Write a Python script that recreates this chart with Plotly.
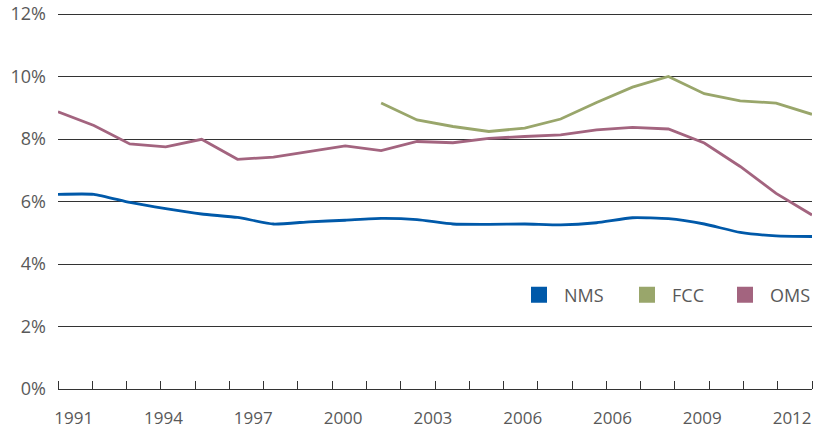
import plotly.graph_objects as go

years = list(range(1991, 2013))
nms = [6.23, 6.23, 5.97, 5.77, 5.60, 5.49, 5.28, 5.35, 5.40, 5.46, 5.42,
       5.28, 5.27, 5.28, 5.25, 5.32, 5.48, 5.45, 5.28, 5.01, 4.90, 4.88]
fcc = [None] * 9 + [9.15, 8.61, 8.40, 8.24, 8.35, 8.64, 9.17, 9.66, 10.0,
                    9.45, 9.22, 9.15, 8.79]
oms = [8.87, 8.43, 7.84, 7.75, 7.99, 7.35, 7.42, 7.60, 7.78, 7.63, 7.92,
       7.88, 8.02, 8.08, 8.13, 8.29, 8.37, 8.32, 7.87, 7.12, 6.26, 5.57]
x_tick_labels = ["1991", "1994", "1997", "2000", "2003", "2006", "2006", "2009", "2012"]
y_ticks = [0, 2, 4, 6, 8, 10, 12]
series_names = ["NMS", "FCC", "OMS"]

C_NMS = "#0059A9"
C_FCC = "#99A66B"
C_OMS = "#A3647F"
colors = [C_NMS, C_FCC, C_OMS]
TXT = "#595959"
GRID = "#333333"
FONT = "Open Sans"

W, H = 816, 430
L, R, B = 58, 4, 41.3
top_px = 14.3          # pixel row of the 12% line
extra = 2              # a little headroom so the 12% gridline is drawn
T = top_px - extra
plot_w = W - L - R
plot_h = H - T - B
px_per_unit = (plot_h - extra) / 12
y_top = 12 + extra / px_per_unit

x0, x1 = years[0], years[-1]
span = x1 - x0
minor_vals = [x0 + k * span / 22 for k in range(23)]
lab_px0, lab_step = 15.7, 89.8
label_vals = [x0 + (lab_px0 + j * lab_step) / plot_w * span for j in range(len(x_tick_labels))]

fig = go.Figure()
for name, vals, col, shape in [("NMS", nms, C_NMS, "spline"),
                               ("FCC", fcc, C_FCC, "linear"),
                               ("OMS", oms, C_OMS, "linear")]:
    fig.add_trace(go.Scatter(x=years, y=vals, mode="lines", name=name,
                             line=dict(color=col, width=2.8, shape=shape, smoothing=0.5),
                             showlegend=False, connectgaps=False, hoverinfo="skip"))

legend_ids = ["legend", "legend2", "legend3"]
legend_square_px = [531, 639, 739]
for name, col, lid in zip(series_names, colors, legend_ids):
    fig.add_trace(go.Scatter(x=[None], y=[None], mode="markers", name=name, legend=lid,
                             marker=dict(symbol="square", size=16, color=col)))

leg_y = (H - B - 295) / plot_h
legend_layout = {}
for i, (lid, px) in enumerate(zip(legend_ids, legend_square_px)):
    if i < 2:
        pos = dict(x=(px - 17 - L) / plot_w, xanchor="left")
    else:
        pos = dict(x=(W - L) / plot_w, xanchor="right")
    legend_layout[lid] = dict(**pos, y=leg_y, yanchor="middle", itemwidth=40,
                              font=dict(size=18, color=TXT), bgcolor="rgba(0,0,0,0)")

fig.update_layout(
    width=W, height=H,
    margin=dict(l=L, r=R, t=T, b=B, autoexpand=False),
    paper_bgcolor="white", plot_bgcolor="white",
    font=dict(family=FONT, size=17, color=TXT),
    showlegend=True,
    xaxis=dict(range=[x0, x1], showgrid=False, zeroline=False, automargin=False,
               showline=True, linecolor=GRID, linewidth=1,
               tickmode="array", tickvals=label_vals, ticktext=x_tick_labels,
               ticks="", ticklabelstandoff=14, tickfont=dict(size=17),
               minor=dict(tickmode="array", tickvals=minor_vals, ticks="inside",
                          ticklen=8, tickwidth=1, tickcolor=GRID, showgrid=False)),
    yaxis=dict(range=[0, y_top], tickmode="array", tickvals=y_ticks, automargin=False,
               ticktext=[f"{v}%" for v in y_ticks], tickfont=dict(size=18),
               showgrid=True, gridcolor=GRID, gridwidth=1, zeroline=False,
               showline=False, ticks="", ticklabelstandoff=11),
    **legend_layout,
)

fig.write_html("out.html", config={"displayModeBar": False, "staticPlot": True},
               post_script="document.body.style.margin='0';document.body.style.overflow='hidden';")
